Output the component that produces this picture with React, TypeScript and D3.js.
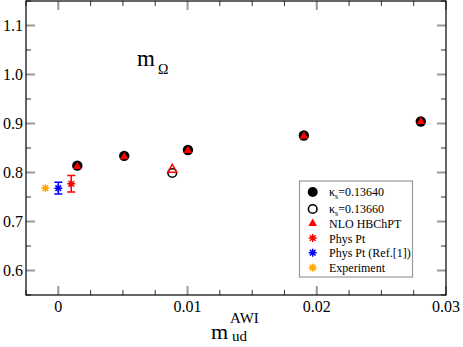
import React from 'react';
import * as d3 from 'd3';

// kappa_s = 0.13640 (filled black circles)
const k1X = [0.00147, 0.0051, 0.01003, 0.019, 0.02805];
const k1Y = [0.814, 0.834, 0.846, 0.8755, 0.904];
// kappa_s = 0.13660 (open circle)
const k2X = [0.00882];
const k2Y = [0.799];
// NLO HBChPT (red triangles)
const nloX = [0.00147, 0.0051, 0.01003, 0.019, 0.02805];
const nloY = [0.812, 0.832, 0.845, 0.874, 0.904];
const nloOpenX = [0.00882];
const nloOpenY = [0.806];
// physical point, ref point, experiment
const physX = [0.001];
const physY = [0.777];
const physErr = [0.017];
const refX = [0];
const refY = [0.768];
const refErr = [0.012];
const expX = [-0.001];
const expY = [0.768];

const xTicks = [0, 0.01, 0.02, 0.03];
const xTickLabels = ['0', '0.01', '0.02', '0.03'];
const yTicks = [0.6, 0.7, 0.8, 0.9, 1.0, 1.1];
const yTickLabels = ['0.6', '0.7', '0.8', '0.9', '1.0', '1.1'];

const W = 463;
const H = 347;
const margin = { left: 26, top: 1, right: 17, bottom: 52 };
const font = 'Liberation Serif';

function Star({ cx, cy, r, color }) {
    const d = [0, 45, 90, 135].map(a => {
        const t = (a * Math.PI) / 180;
        const dx = r * Math.cos(t);
        const dy = r * Math.sin(t);
        return `M${cx - dx},${cy - dy}L${cx + dx},${cy + dy}`;
    });
    return <path d={d.join('')} stroke={color} strokeWidth={1.5} fill="none" />;
}

function ErrBar({ cx, y0, y1, w, color }) {
    return (
        <path
            d={`M${cx},${y0}L${cx},${y1}M${cx - w},${y0}L${cx + w},${y0}M${cx - w},${y1}L${cx + w},${y1}`}
            stroke={color}
            strokeWidth={1.5}
            fill="none"
        />
    );
}

export default function App() {
    const x = d3
        .scaleLinear()
        .domain([-0.0025, 0.03])
        .range([margin.left, W - margin.right]);
    const y = d3
        .scaleLinear()
        .domain([0.55, 1.15])
        .range([H - margin.bottom, margin.top]);

    const x0 = x.range()[0];
    const x1 = x.range()[1];
    const y0 = y.range()[0];
    const y1 = y.range()[1];

    const xMinor = d3.range(-0.0025, 0.0301, 0.0025).filter(v => Math.abs(Math.round(v / 0.01) * 0.01 - v) > 1e-6);
    const yMinor = d3.range(0.55, 1.151, 0.1);

    const tri = side => d3.symbol(d3.symbolTriangle, (Math.sqrt(3) / 4) * side * side)();

    const legendRows = [192, 209, 223.5, 238, 252.7, 267.7];
    const lx = 312.7;
    const tx = 329;

    return (
        <div style={{ position: 'absolute', left: 0, top: 0 }}>
            <svg width={W} height={H} style={{ display: 'block' }} fontFamily={font}>
                <rect x={0} y={0} width={W} height={H} fill="white" />

                {/* major ticks, grey, inward on all four sides */}
                <g stroke="#999" strokeWidth={2}>
                    {xTicks.map((t, i) => (
                        <g key={i}>
                            <line x1={x(t)} x2={x(t)} y1={y0} y2={y0 - 9} />
                            <line x1={x(t)} x2={x(t)} y1={y1} y2={y1 + 9} />
                        </g>
                    ))}
                    {yTicks.map((t, i) => (
                        <g key={i}>
                            <line x1={x0} x2={x0 + 9} y1={y(t)} y2={y(t)} />
                            <line x1={x1} x2={x1 - 9} y1={y(t)} y2={y(t)} />
                        </g>
                    ))}
                </g>
                <g stroke="#333" strokeWidth={1}>
                    {xMinor.map((t, i) => (
                        <g key={i}>
                            <line x1={x(t)} x2={x(t)} y1={y0} y2={y0 - 5} />
                            <line x1={x(t)} x2={x(t)} y1={y1} y2={y1 + 5} />
                        </g>
                    ))}
                    {yMinor.map((t, i) => (
                        <g key={i}>
                            <line x1={x0} x2={x0 + 5} y1={y(t)} y2={y(t)} />
                            <line x1={x1} x2={x1 - 5} y1={y(t)} y2={y(t)} />
                        </g>
                    ))}
                </g>

                <rect x={x0} y={y1} width={x1 - x0} height={y0 - y1} fill="none" stroke="black" strokeWidth={1.2} />

                {/* tick labels */}
                <g fontSize={16} fill="black" fontFamily={font}>
                    {xTicks.map((t, i) => (
                        <text key={i} x={x(t)} y={y0 + 17} textAnchor="middle">
                            {xTickLabels[i]}
                        </text>
                    ))}
                    {yTicks.map((t, i) => (
                        <text key={i} x={x0 - 3} y={y(t) + 5.5} textAnchor="end">
                            {yTickLabels[i]}
                        </text>
                    ))}
                </g>

                {/* axis label */}
                <g fontFamily={font} fill="black">
                    <text x={211} y={339} fontSize={22}>m</text>
                    <text x={230} y={323} fontSize={15}>AWI</text>
                    <text x={232} y={341} fontSize={15}>ud</text>

                    {/* panel label */}
                    <text x={137} y={66} fontSize={23}>m</text>
                    <text x={158} y={74} fontSize={14}>Ω</text>
                </g>

                {/* data */}
                {k1X.map((d, i) => (
                    <circle key={i} cx={x(d)} cy={y(k1Y[i])} r={5.2} fill="black" />
                ))}
                {k2X.map((d, i) => (
                    <circle key={i} cx={x(d)} cy={y(k2Y[i])} r={4.3} fill="white" stroke="black" strokeWidth={1.6} />
                ))}
                {nloX.map((d, i) => (
                    <path key={i} d={tri(8.5)} transform={`translate(${x(d)},${y(nloY[i])})`} fill="red" />
                ))}
                {nloOpenX.map((d, i) => (
                    <path
                        key={i}
                        d={tri(9)}
                        transform={`translate(${x(d)},${y(nloOpenY[i])})`}
                        fill="none"
                        stroke="red"
                        strokeWidth={1.5}
                    />
                ))}
                {physX.map((d, i) => (
                    <g key={i}>
                        <ErrBar cx={x(d)} y0={y(physY[i] + physErr[i])} y1={y(physY[i] - physErr[i])} w={4} color="red" />
                        <Star cx={x(d)} cy={y(physY[i])} r={4} color="red" />
                    </g>
                ))}
                {refX.map((d, i) => (
                    <g key={i}>
                        <ErrBar cx={x(d)} y0={y(refY[i] + refErr[i])} y1={y(refY[i] - refErr[i])} w={4} color="blue" />
                        <Star cx={x(d)} cy={y(refY[i])} r={4} color="blue" />
                    </g>
                ))}
                {expX.map((d, i) => (
                    <Star key={i} cx={x(d)} cy={y(expY[i])} r={4} color="orange" />
                ))}

                {/* legend */}
                <rect x={299.5} y={181} width={113} height={96} fill="white" stroke="#999" strokeWidth={1.2} />
                <circle cx={lx} cy={legendRows[0]} r={5} fill="black" />
                <circle cx={lx} cy={legendRows[1]} r={4.3} fill="white" stroke="black" strokeWidth={1.6} />
                <path d={tri(8.5)} transform={`translate(${lx},${legendRows[2]})`} fill="red" />
                <Star cx={lx} cy={legendRows[3]} r={4} color="red" />
                <Star cx={lx} cy={legendRows[4]} r={4} color="blue" />
                <Star cx={lx} cy={legendRows[5]} r={4} color="orange" />
                <g fontSize={12} fill="black" fontFamily={font}>
                    <text x={tx} y={legendRows[0] + 4}>κ<tspan fontSize={8} dy={3}>s</tspan><tspan dy={-3}>=0.13640</tspan></text>
                    <text x={tx} y={legendRows[1] + 4}>κ<tspan fontSize={8} dy={3}>s</tspan><tspan dy={-3}>=0.13660</tspan></text>
                    <text x={tx} y={legendRows[2] + 4.5}>NLO HBChPT</text>
                    <text x={tx} y={legendRows[3] + 4.5}>Phys Pt</text>
                    <text x={tx} y={legendRows[4] + 4.5}>Phys Pt (Ref.[1])</text>
                    <text x={tx} y={legendRows[5] + 4.5}>Experiment</text>
                </g>
            </svg>
        </div>
    );
}
